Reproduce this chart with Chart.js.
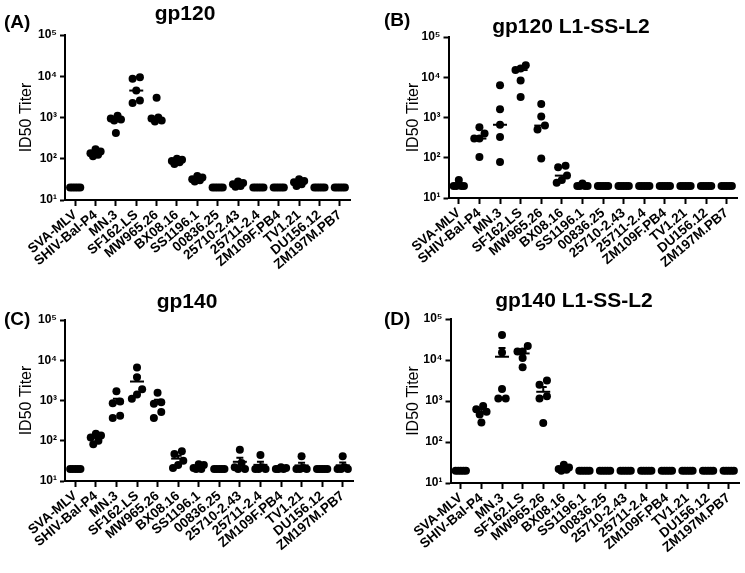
<!DOCTYPE html>
<html>
<head>
<meta charset="utf-8">
<script src="https://cdn.jsdelivr.net/npm/chart.js@4.4.1/dist/chart.umd.min.js"></script>
<style>
  html, body { margin: 0; padding: 0; background: #fff; }
  #wrap { position: relative; width: 745px; height: 573px; overflow: hidden; background: #fff; }
  canvas { position: absolute; }
  .ttl { position: absolute; width: 300px; text-align: center; font: bold 21px 'Liberation Sans', Arial, sans-serif; line-height: 21px; color: #000; white-space: nowrap; }
  .lbl { position: absolute; font: bold 19px 'Liberation Sans', Arial, sans-serif; line-height: 19px; color: #000; white-space: nowrap; }
</style>
</head>
<body>
<div id="wrap">
  <canvas id="cA" width="372" height="290" style="left:0;top:0"></canvas>
  <canvas id="cB" width="373" height="290" style="left:372px;top:0"></canvas>
  <canvas id="cC" width="372" height="283" style="left:0;top:290px"></canvas>
  <canvas id="cD" width="373" height="283" style="left:372px;top:290px"></canvas>
  <div class="lbl" style="left:4px;top:12px">(A)</div>
  <div class="ttl" style="left:35px;top:2px">gp120</div>
  <div class="lbl" style="left:384px;top:10px">(B)</div>
  <div class="ttl" style="left:421px;top:15px">gp120 L1-SS-L2</div>
  <div class="lbl" style="left:4px;top:309px">(C)</div>
  <div class="ttl" style="left:37px;top:290px">gp140</div>
  <div class="lbl" style="left:384px;top:309px">(D)</div>
  <div class="ttl" style="left:424px;top:289px">gp140 L1-SS-L2</div>
</div>
<script>
// ---------- data ----------
const categories = ['SVA-MLV','SHIV-Bal-P4','MN.3','SF162.LS','MW965.26','BX08.16','SS1196.1',
  '00836.25','25710-2.43','25711-2.4','ZM109F.PB4','TV1.21','DU156.12','ZM197M.PB7'];

const yTickValues = [10, 100, 1000, 10000, 100000];
const yTickLabels = ['10\u00B9','10\u00B2','10\u00B3','10\u2074','10\u2075'];

// (A) gp120 – ID50 titers, 5 animals per pseudovirus
const gp120 = [
  [20,20,20,20,20],
  [170,150,135,125,115],
  [1100,950,900,850,420],
  [9500,8700,4500,2600,2250],
  [3000,1000,950,850,800],
  [100,95,88,82,75],
  [38,35,32,30,28],
  [20,20,20,20,20],
  [28,26,24,22,21],
  [20,20,20,20,20],
  [20,20,20,20,20],
  [32,29,27,24,22],
  [20,20,20,20,20],
  [20,20,20,20,20]
];

// (B) gp120 L1-SS-L2
const gp120L = [
  [28,20,20,20,20],
  [575,400,300,300,105],
  [6300,1600,660,330,78],
  [20000,16500,15100,8300,3250],
  [2150,1060,630,500,96],
  [63,58,36,28,24],
  [23,20,20,20,20],
  [20,20,20,20,20],
  [20,20,20,20,20],
  [20,20,20,20,20],
  [20,20,20,20,20],
  [20,20,20,20,20],
  [20,20,20,20,20],
  [20,20,20,20,20]
];

// (C) gp140
const gp140 = [
  [20,20,20,20,20],
  [150,135,120,100,82],
  [1700,950,850,420,370],
  [6600,3800,1900,1400,1100],
  [1550,900,830,520,370],
  [55,47,32,25,21],
  [26,25,21,20,20],
  [20,20,20,20,20],
  [60,28,22,20,20],
  [44,22,20,20,20],
  [22,21,20,20,20],
  [41,21,20,20,20],
  [20,20,20,20,20],
  [41,22,20,20,20]
];

// (D) gp140 L1-SS-L2
const gp140L = [
  [20,20,20,20,20],
  [760,630,550,470,300],
  [40500,15300,1950,1150,1150],
  [22000,16200,16200,11200,6700],
  [3150,2500,1300,1150,290],
  [28,24,22,21,20],
  [20,20,20,20,20],
  [20,20,20,20,20],
  [20,20,20,20,20],
  [20,20,20,20,20],
  [20,20,20,20,20],
  [20,20,20,20,20],
  [20,20,20,20,20],
  [20,20,20,20,20]
];

// ---------- helpers ----------
const FONT = "'Liberation Sans', Arial, 'DejaVu Sans', sans-serif";

// horizontal scatter of overlapping points (layout only)
function spreadOffsets(vals) {
  const order = vals.map((v, i) => i).sort((a, b) => vals[a] - vals[b]);
  const offs = new Array(vals.length).fill(0);
  let cluster = [order[0]];
  const flush = () => {
    const n = cluster.length;
    if (n > 1) {
      const s = Math.min(0.36, 0.5 / (n - 1));
      let slots = cluster.map((_, k) => k);
      const allSame = vals[cluster[0]] === vals[cluster[n - 1]];
      if (n >= 4 && !allSame) {
        slots = n === 4 ? [1, 3, 0, 2] : [1, 3, 0, 4, 2].concat([...Array(Math.max(0, n - 5)).keys()].map(j => j + 5));
      }
      cluster.forEach((idx, k) => { offs[idx] = (slots[k] - (n - 1) / 2) * s; });
    }
  };
  for (let k = 1; k < order.length; k++) {
    const prev = order[k - 1], cur = order[k];
    if (Math.log10(vals[cur]) - Math.log10(vals[prev]) < 0.15) cluster.push(cur);
    else { flush(); cluster = [cur]; }
  }
  flush();
  return offs;
}

function groupStats(vals, type) {
  const n = vals.length;
  if (type === 'median') {
    const s = [...vals].sort((a, b) => a - b);
    const c = n % 2 ? s[(n - 1) / 2] : (s[n / 2 - 1] + s[n / 2]) / 2;
    return { center: c, sem: 0 };
  }
  const m = vals.reduce((a, b) => a + b, 0) / n;
  const sd = Math.sqrt(vals.reduce((a, b) => a + (b - m) * (b - m), 0) / (n - 1));
  return { center: m, sem: sd / Math.sqrt(n) };
}

function makeStatPlugin(groups, type) {
  return {
    id: 'statLines',
    afterDatasetsDraw(chart) {
      const { ctx } = chart;
      const xs = chart.scales.x, ys = chart.scales.y;
      ctx.save();
      ctx.strokeStyle = '#000';
      ctx.lineWidth = 2;
      groups.forEach((vals, i) => {
        const st = groupStats(vals, type);
        const px = xs.getPixelForValue(i);
        const py = ys.getPixelForValue(st.center);
        ctx.beginPath();
        ctx.moveTo(px - 7, py); ctx.lineTo(px + 7, py);
        ctx.stroke();
        if (type === 'mean' && st.sem > 0) {
          const pt = ys.getPixelForValue(st.center + st.sem);
          ctx.beginPath();
          ctx.moveTo(px, py); ctx.lineTo(px, pt);
          ctx.moveTo(px - 3.5, pt); ctx.lineTo(px + 3.5, pt);
          ctx.stroke();
        }
      });
      ctx.restore();
    }
  };
}

function buildPanel(canvasId, groups, statType, lay) {
  const pts = [];
  groups.forEach((vals, i) => {
    const offs = spreadOffsets(vals);
    vals.forEach((v, k) => pts.push({ x: i + offs[k], y: v }));
  });
  new Chart(document.getElementById(canvasId), {
    type: 'scatter',
    data: { datasets: [{ data: pts, backgroundColor: '#000', borderColor: '#000',
      pointRadius: 4, pointHoverRadius: 4, borderWidth: 0 }] },
    plugins: [makeStatPlugin(groups, statType)],
    options: {
      responsive: false, animation: false, devicePixelRatio: 1,
      layout: { padding: { left: lay.padL, top: lay.padT, right: lay.padR, bottom: 0 } },
      plugins: { legend: { display: false }, tooltip: { enabled: false }, title: { display: false } },
      scales: {
        x: {
          type: 'linear', min: -0.5, max: categories.length - 0.5,
          afterBuildTicks: s => { s.ticks = categories.map((c, i) => ({ value: i })); },
          afterFit: s => { s.height = lay.xH; },
          ticks: { autoSkip: false, minRotation: lay.rot, maxRotation: lay.rot, padding: 1, color: '#000',
            font: { family: FONT, size: 13.5, weight: 'bold' },
            callback: v => categories[v] },
          grid: { display: true, drawOnChartArea: false, drawTicks: true, tickLength: 6, tickWidth: 2, tickColor: '#000' },
          border: { display: true, width: 2, color: '#000' }
        },
        y: {
          type: 'logarithmic', min: 10, max: 100000,
          afterBuildTicks: s => { s.ticks = yTickValues.map(v => ({ value: v })); },
          afterFit: s => { s.width = lay.yW; },
          ticks: { padding: 3, color: '#000', font: { family: FONT, size: 12, weight: 'bold' },
            callback: v => yTickLabels[yTickValues.indexOf(v)] },
          grid: { display: true, drawOnChartArea: false, drawTicks: true, tickLength: 5, tickWidth: 2, tickColor: '#000' },
          border: { display: true, width: 2, color: '#000' },
          title: { display: true, text: 'ID50 Titer', color: '#000', font: { family: FONT, size: 16 }, padding: { top: 6, bottom: 4 } }
        }
      }
    }
  });
}

buildPanel('cA', gp120, 'median', { padL: 11, yW: 54,   padT: 35, padR: 22, xH: 90, rot: 40 });
buildPanel('cB', gp120L, 'median',{ padL: 26, yW: 50.5, padT: 37, padR: 8,  xH: 92, rot: 40 });
buildPanel('cC', gp140, 'mean',   { padL: 11, yW: 54,   padT: 30, padR: 19, xH: 92, rot: 40 });
buildPanel('cD', gp140L, 'mean',  { padL: 26, yW: 52.5, padT: 29, padR: 6,  xH: 90, rot: 40 });
</script>
</body>
</html>
